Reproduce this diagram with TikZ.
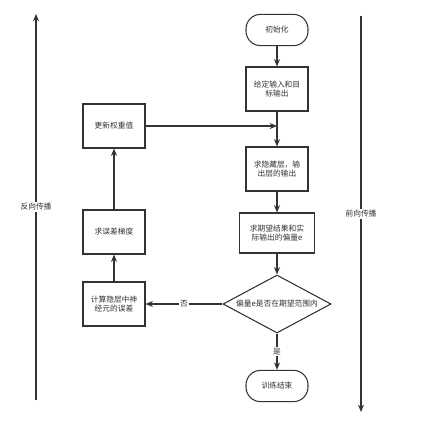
\documentclass[tikz,border=0pt]{standalone}
\usepackage{fontspec}
\newfontfamily\cjk{Noto Sans CJK SC}
\usepackage{xcolor}
\usepackage{tikz}
\usetikzlibrary{shapes}
\usetikzlibrary{arrows.meta}
\definecolor{linegray}{HTML}{333333}
\tikzset{
	box node/.style={rectangle,draw=linegray,line width=0.8pt,text=linegray,align=center,
		minimum width=46.5pt,minimum height=33pt,inner sep=1pt,font=\cjk\fontsize{5.8}{7}\selectfont},
	start node/.style={box node,rounded corners=11pt,minimum height=23.5pt},
	decision node/.style={diamond,aspect=1.9,draw=linegray,line width=0.8pt,text=linegray,
		minimum width=81pt,minimum height=43.5pt,inner sep=0pt,font=\cjk\fontsize{5.8}{7}\selectfont},
	label node/.style={fill=white,text=linegray,inner sep=1pt,font=\cjk\fontsize{5.8}{7}\selectfont}
}

\begin{document}
\begin{tikzpicture}[x=0.75pt,y=-0.75pt,->,>={Stealth[length=5.5pt,width=4.5pt]},line width=0.8pt,draw=linegray]
	\useasboundingbox (0,0) rectangle (438,435);
	% forward column
	\node [start node] (1) at (277,30) {初始化};
	\node [box node] (2) at (277,89) {给定输入和目\\标输出};
	\node [box node] (3) at (277,169) {求隐藏层，输\\出层的输出};
	\node [box node,minimum width=56pt,minimum height=30pt] (4) at (277,233) {求期望结果和实\\际输出的偏量e};
	\node [decision node] (5) at (277,304) {偏量e是否在期望范围内};
	\node [start node] (6) at (277,386) {训练结束};
	% backward column
	\node [box node] (7) at (114,304) {计算隐层中神\\经元的误差};
	\node [box node] (8) at (114,232) {求误差梯度};
	\node [box node] (9) at (114,126) {更新权重值};
	% side arrows
	\coordinate (10) at (36,400);
	\coordinate (11) at (36,14);
	\coordinate (12) at (361,16);
	\coordinate (13) at (361,412);

	\draw (1) -- (2);
	\draw (2) -- (3);
	\draw (3) -- (4);
	\draw (4) -- (5);
	\draw (5) -- node [label node] {是} (6);
	\draw (5) -- node [label node] {否} (7);
	\draw (7) -- (8);
	\draw (8) -- (9);
	\draw (9) -- (9 -| 2);
	\draw (10) -- node [label node] {反向传播} (11);
	\draw (12) -- node [label node] {前向传播} (13);
\end{tikzpicture}
\end{document}
